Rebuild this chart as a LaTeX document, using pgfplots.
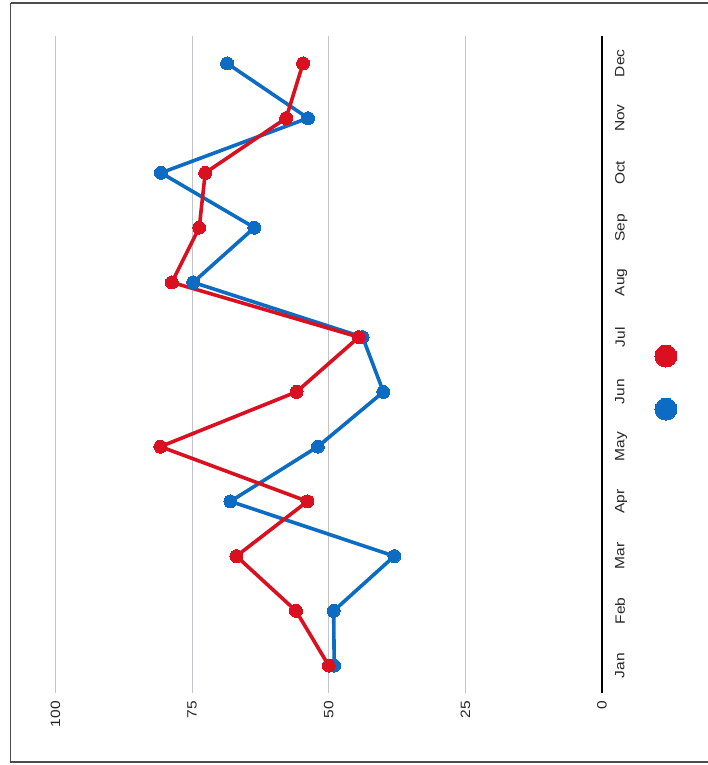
\documentclass[border=0pt]{standalone}
\usepackage{pgfplots}
\pgfplotsset{compat=1.18}
\usepackage{fontspec}
\setmainfont{Liberation Sans}
\newfontfamily\lbl[FakeStretch=1.15]{Liberation Sans}
\definecolor{cred}{RGB}{218,16,32}
\definecolor{cblue}{RGB}{12,108,196}
\definecolor{cgrid}{RGB}{195,195,205}
\begin{document}
\begin{tikzpicture}[x=1pt,y=1pt]
\path[use as bounding box] (0,0) rectangle (708,765);
\draw[black!70, line width=1.5pt] (10.5,762) -- (10.5,3) -- (707.5,3);
\draw[black!70, line width=1.5pt] (10.5,762) -- (707.5,762);
\begin{axis}[
  at={(55.5pt,72pt)}, anchor=south west,
  width=546.5pt, height=657pt, scale only axis,
  xmin=0, xmax=100, x dir=reverse,
  ymin=0.5, ymax=12.5,
  axis line style={draw=none},
  xtick={0,25,50,75,100},
  xticklabels={0,25,50,75,100},
  ytick={1,2,3,4,5,6,7,8,9,10,11,12},
  yticklabels={Jan,Feb,Mar,Apr,May,Jun,Jul,Aug,Sep,Oct,Nov,Dec},
  yticklabel pos=right,
  major tick length=0pt,
  xmajorgrids, ymajorgrids=false,
  major grid style={cgrid, line width=0.8pt},
  xticklabel style={rotate=90, anchor=east, inner sep=0pt, font={\fontsize{13.5}{16}\lbl}, text=black!85},
  yticklabel style={rotate=90, anchor=north, inner sep=0pt, font={\fontsize{13.5}{16}\lbl}, text=black!85},
  xticklabel shift=8pt,
  yticklabel shift=13pt,
  clip=false,
]
\addplot[black, line width=1.8pt, no marks] coordinates {(0,0.5) (0,12.5)};
\addplot[cblue, line width=3.6pt, mark=*, mark size=6.5pt, mark options={solid, fill=cblue, draw=cblue, line width=0pt}] coordinates {
(49,1) (49.1,2) (38,3) (68,4) (52,5) (40,6) (43.8,7) (74.8,8) (63.6,9) (80.7,10) (53.8,11) (68.6,12)};
\addplot[cred, line width=3.6pt, mark=*, mark size=6.5pt, mark options={solid, fill=cred, draw=cred, line width=0pt}] coordinates {
(50,1) (56,2) (66.9,3) (53.9,4) (80.8,5) (55.9,6) (44.5,7) (78.7,8) (73.7,9) (72.6,10) (57.8,11) (54.7,12)};
\addplot[only marks, mark=*, mark size=11pt, mark options={fill=cred, draw=cred, line width=0pt}] coordinates {(-11.7,6.655)};
\addplot[only marks, mark=*, mark size=11pt, mark options={fill=cblue, draw=cblue, line width=0pt}] coordinates {(-11.7,5.685)};
\end{axis}
\end{tikzpicture}
\end{document}
